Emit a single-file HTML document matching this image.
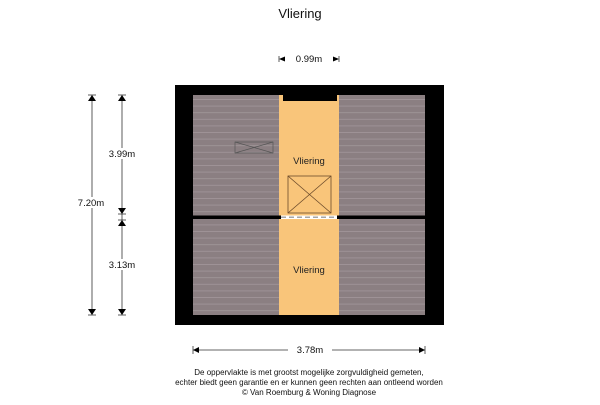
<!DOCTYPE html>
<html><head><style>
body{margin:0;background:#fff;width:600px;height:400px;overflow:hidden}
</style></head><body>
<svg width="600" height="400" viewBox="0 0 600 400" xmlns="http://www.w3.org/2000/svg" font-family="Liberation Sans, sans-serif">
<defs>
<pattern id="fl" width="10" height="6.6" patternUnits="userSpaceOnUse">
<rect width="10" height="6.6" fill="#8b7f82"/>
<line x1="0" y1="0.5" x2="10" y2="0.5" stroke="#a2979a" stroke-width="0.8"/>
</pattern>
</defs>
<text x="300" y="18" font-size="13" text-anchor="middle" fill="#111">Vliering</text>
<rect x="175" y="85" width="269" height="240" fill="#000"/>
<rect x="193" y="95" width="232" height="220" fill="url(#fl)"/>
<rect x="279" y="95" width="60" height="220" fill="#f9c57a"/>
<rect x="283" y="95" width="54" height="6" fill="#000"/>
<rect x="193" y="215.5" width="232" height="3.5" fill="#000"/>
<rect x="281" y="215.5" width="56" height="3.5" fill="#fff"/>
<line x1="281" y1="217.2" x2="337" y2="217.2" stroke="#888" stroke-width="1.2" stroke-dasharray="5,3"/>
<rect x="288" y="176" width="43" height="37" fill="none" stroke="#6b4a2a" stroke-width="0.8"/>
<line x1="288" y1="176" x2="331" y2="213" stroke="#6b4a2a" stroke-width="0.8"/>
<line x1="331" y1="176" x2="288" y2="213" stroke="#6b4a2a" stroke-width="0.8"/>
<rect x="235" y="142" width="38" height="11" fill="none" stroke="#555" stroke-width="0.7"/>
<polyline points="235,142 273,153" stroke="#555" stroke-width="0.7"/>
<polyline points="273,142 235,153" stroke="#555" stroke-width="0.7"/>
<text x="309" y="164" font-size="9.5" text-anchor="middle" fill="#222">Vliering</text>
<text x="309" y="273" font-size="9.5" text-anchor="middle" fill="#222">Vliering</text>
<g stroke="#333" stroke-width="0.8" fill="#000">
<line x1="92" y1="95" x2="92" y2="315"/>
<polygon points="88,101 96,101 92,95" stroke="none"/><line x1="88" y1="95" x2="96" y2="95"/>
<polygon points="88,309 96,309 92,315" stroke="none"/><line x1="88" y1="315" x2="96" y2="315"/>
<line x1="122" y1="95" x2="122" y2="315"/>
<polygon points="118,101 126,101 122,95" stroke="none"/><line x1="118" y1="95" x2="126" y2="95"/>
<polygon points="118,208 126,208 122,214" stroke="none"/><line x1="118" y1="214" x2="126" y2="214"/>
<polygon points="118,226 126,226 122,220" stroke="none"/><line x1="118" y1="220" x2="126" y2="220"/>
<polygon points="118,309 126,309 122,315" stroke="none"/><line x1="118" y1="315" x2="126" y2="315"/>
<line x1="193" y1="350" x2="425" y2="350"/>
<polygon points="199,347 199,353 193,350" stroke="none"/><line x1="193" y1="346" x2="193" y2="354"/>
<polygon points="419,347 419,353 425,350" stroke="none"/><line x1="425" y1="346" x2="425" y2="354"/>
<polygon points="285,56.5 285,61.5 279,59" stroke="none"/><line x1="279" y1="56" x2="279" y2="62"/>
<polygon points="333,56.5 333,61.5 339,59" stroke="none"/><line x1="339" y1="56" x2="339" y2="62"/>
</g>
<g font-size="9.5" fill="#111" text-anchor="middle">
<rect x="102" y="148" width="40" height="11" fill="#fff"/>
<text x="122" y="157">3.99m</text>
<rect x="71" y="197" width="42" height="11" fill="#fff"/>
<text x="91" y="206">7.20m</text>
<rect x="102" y="259" width="40" height="11" fill="#fff"/>
<text x="122" y="268">3.13m</text>
<rect x="288" y="344" width="44" height="11" fill="#fff"/>
<text x="310" y="353">3.78m</text>
<text x="309" y="62">0.99m</text>
</g>
<g font-size="8" fill="#111" text-anchor="middle">
<text x="309" y="375">De oppervlakte is met grootst mogelijke zorgvuldigheid gemeten,</text>
<text x="309" y="385">echter biedt geen garantie en er kunnen geen rechten aan ontleend worden</text>
<text x="309" y="395">© Van Roemburg &amp; Woning Diagnose</text>
</g>
</svg>
</body></html>
